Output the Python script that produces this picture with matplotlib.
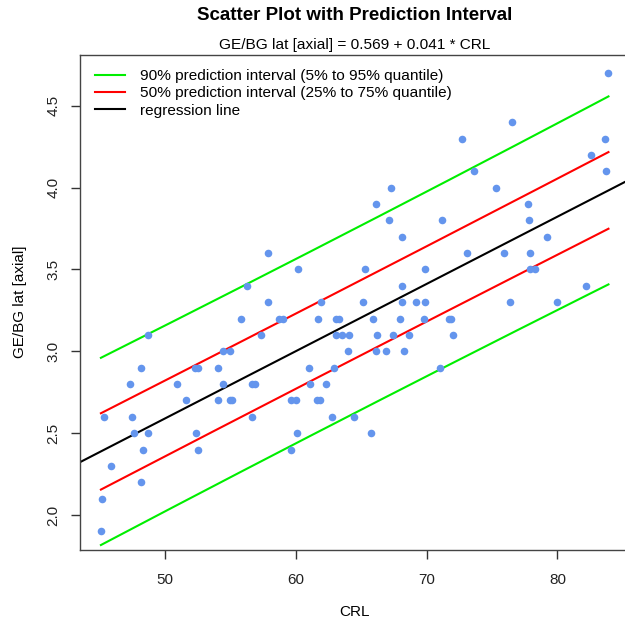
import numpy as np
import matplotlib.pyplot as plt

plt.rcParams['font.family'] = ['Liberation Sans', 'DejaVu Sans']

# CRL values grouped by the GE/BG lat [axial] value
crl_by_level = {
    4.7: [83.9],
    4.4: [76.5],
    4.3: [72.7, 83.6],
    4.2: [82.6],
    4.1: [73.6, 83.7],
    4.0: [67.3, 75.3],
    3.9: [66.1, 77.75],
    3.8: [67.15, 71.15, 77.8],
    3.7: [68.1, 79.2],
    3.6: [57.9, 73.1, 75.9, 77.9],
    3.5: [60.2, 65.3, 69.9, 77.9, 78.25],
    3.4: [56.3, 68.1, 82.2],
    3.3: [57.9, 61.9, 65.1, 68.1, 69.2, 69.9, 76.4, 80.0],
    3.2: [55.8, 58.7, 59.0, 61.7, 63.1, 63.3, 65.9, 68.0, 69.8, 71.7, 71.9],
    3.1: [48.7, 57.3, 63.05, 63.55, 64.1, 66.2, 67.45, 68.65, 72.0],
    3.0: [54.4, 55.0, 64.0, 66.1, 66.9, 68.25],
    2.9: [48.2, 52.3, 52.55, 54.05, 61.0, 62.9, 71.0],
    2.8: [47.3, 50.9, 54.4, 56.65, 56.9, 61.1, 62.3],
    2.7: [51.6, 54.05, 55.0, 55.1, 59.6, 60.0, 61.6, 61.85],
    2.6: [45.3, 47.45, 56.65, 62.8, 64.45],
    2.5: [47.6, 48.7, 52.4, 60.1, 65.75],
    2.4: [48.3, 52.55, 59.6],
    2.3: [45.9],
    2.2: [48.2],
    2.1: [45.2],
    1.9: [45.1],
}

crl = np.array([x for lvl in crl_by_level for x in crl_by_level[lvl]])
gebg = np.array([lvl for lvl in crl_by_level for x in crl_by_level[lvl]])

# student t quantiles for df ~ 99
t95 = 1.6604
t75 = 0.6770

# linear fit and prediction intervals
n = len(crl)
slope, intercept = np.polyfit(crl, gebg, 1)
resid = gebg - (intercept + slope * crl)
s = np.sqrt(np.sum(resid ** 2) / (n - 2))
xbar = crl.mean()
sxx = np.sum((crl - xbar) ** 2)

xs = np.linspace(crl.min(), crl.max(), 200)
yhat = intercept + slope * xs
se = s * np.sqrt(1 + 1 / n + (xs - xbar) ** 2 / sxx)

fig = plt.figure(figsize=(6.25, 6.26), dpi=100)
ax = fig.add_axes([0.1286, 0.1219, 0.8778, 0.7907])

ax.scatter(crl, gebg, s=30, color='#6495ED', linewidths=0, zorder=3)

ax.plot(xs, yhat + t95 * se, color='#00EE00', lw=1.5,
        label='90% prediction interval (5% to 95% quantile)')
ax.plot(xs, yhat - t95 * se, color='#00EE00', lw=1.5)
ax.plot(xs, yhat + t75 * se, color='#FF0000', lw=1.5,
        label='50% prediction interval (25% to 75% quantile)')
ax.plot(xs, yhat - t75 * se, color='#FF0000', lw=1.5)
ax.axline((0, intercept), slope=slope, color='black', lw=1.5, label='regression line')

ax.set_xlim(43.53, 85.47)
ax.set_ylim(1.788, 4.812)
ax.set_xticks([50, 60, 70, 80])
ax.set_yticks([2.0, 2.5, 3.0, 3.5, 4.0, 4.5])
ax.set_yticklabels(['2.0', '2.5', '3.0', '3.5', '4.0', '4.5'], rotation=90, va='center')
ax.tick_params(length=6.5, width=1, colors='#333333', labelsize=11, labelcolor='#222222')
ax.tick_params(axis='x', pad=10)
ax.tick_params(axis='y', pad=8)
for sp in ax.spines.values():
    sp.set_color('#444444')
    sp.set_linewidth(1)

ax.set_xlabel('CRL', fontsize=11, labelpad=13)
ax.set_ylabel('GE/BG lat [axial]', fontsize=11, labelpad=14)

fig.text(0.5675, 0.975, 'Scatter Plot with Prediction Interval', ha='center', va='center',
         fontsize=13.5, fontweight='bold')
fig.text(0.5675, 0.928, 'GE/BG lat [axial] = 0.569 + 0.041 * CRL', ha='center', va='center',
         fontsize=11.1)

ax.legend(loc='upper left', frameon=False, fontsize=11.1, handlelength=1.95,
          labelspacing=0.2, borderaxespad=0.55, handletextpad=0.95)

plt.savefig('out.png', dpi=100)
